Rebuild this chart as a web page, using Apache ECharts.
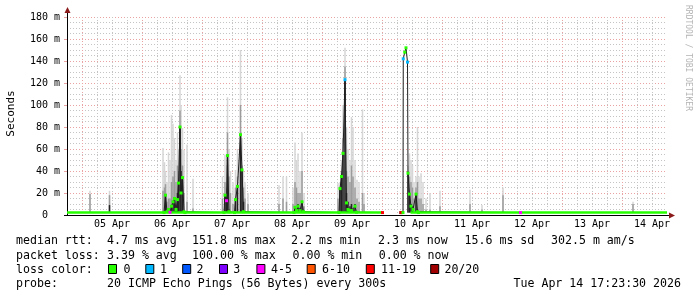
<!DOCTYPE html>
<html><head><meta charset="utf-8">
<script src="https://cdn.jsdelivr.net/npm/echarts@6/dist/echarts.min.js"></script>
<style>html,body{margin:0;padding:0;background:#fff}#c{width:697px;height:297px}</style>
</head><body><div id="c"></div>
<script>
// ---------- data (hours since 04 Apr 18:00; values in ms) ----------
const dayLabels = ['05 Apr','06 Apr','07 Apr','08 Apr','09 Apr','10 Apr','11 Apr','12 Apr','13 Apr','14 Apr'];
const lossLabels = ['0','1','2','3','4-5','6-10','11-19','20/20'];
const lossColors = ['#26ff00','#00b8ff','#0059ff','#7e00ff','#ff00ff','#ff5500','#ff0000','#a10000'];

const baseV = 2.2;
const baseStart = [0, 134.0, 137.4];
const baseEnd   = [126.0, 134.4, 240];

// smoke columns: time, light top, mid top, dark top
const smokeT   = [9.2,17.0, 38.4,39.0,39.4,40.0,40.6,41.2,41.8,42.4,43.0,43.6,44.2,44.6,45.2,45.6,46.2,46.8,48.0,50.4,
                  62.2,63.2,63.8,64.2,64.8,65.4,66.4,67.4,68.2,69.4,70.0,70.6,71.2,72.4,
                  84.8,86.4,87.8,90.4,91.2,91.8,92.4,93.2,94.0,94.8,
                  108.4,109.2,109.8,110.4,111.2,111.8,112.4,113.2,113.8,114.4,115.2,116.0,116.8,118.2,118.8,
                  136.4,137.0,137.6,138.2,138.8,139.6,140.2,140.8,141.6,142.4,143.6,145.2,149.2,161.2,166.0,174.4,226.4];
const smokeHi  = [22,22, 61,48,40,30,57,50,91,83,70,50,75,60,127,100,79,59,64,33,
                  35,55,45,107,60,40,30,41,60,150,70,40,30,20,
                  27,35,35,25,66,50,56,40,75,20,
                  29,30,50,100,152,80,60,50,89,80,50,32,30,96,20,
                  45,56,50,45,30,35,80,35,38,30,15,20,22,23,9,25,12];
const smokeMid = [19,18, 22,25,28,12,15,15,30,35,40,30,45,40,95,60,45,20,12,6,
                  15,30,25,75,35,20,10,25,35,100,45,25,15,10,
                  10,15,12,10,30,25,20,20,40,8,
                  15,25,40,70,135,40,35,30,45,35,25,15,12,20,10,
                  40,35,30,25,15,25,30,15,15,10,5,5,8,10,5,18,10];
const smokeLo  = [0,9, 0,0,18,3,5,4,8,12,15,5,20,29,80,40,34,3,0,0,
                  0,18,13,54,5,0,0,14,26,73,41,12,0,0,
                  0,0,0,0,8,5,10,6,12,0,
                  0,24,35,56,123,20,12,8,10,6,10,0,0,0,0,
                  38,20,10,8,3,19,5,0,0,0,0,0,0,0,0,3,3];

// median rtt samples: time, value, loss bucket index
const medT    = [38.8,39.4,40.0,40.6,41.2,41.8,42.4,43.0,43.6,44.2,44.6,45.2,45.6,46.2,46.8,47.2,
                 62.8,63.2,63.8,64.2,64.8,67.0,67.4,68.2,69.4,70.0,70.6,
                 90.8,91.2,91.8,92.4,93.2,94.0,94.6,
                 108.8,109.2,109.8,110.4,111.2,111.8,112.4,113.2,113.8,115.2,115.8,
                 126.2,126.4,133.5,133.9,134.4,134.5,135.1,135.6,136.2,136.4,137.0,137.6,138.4,139.6,140.2,140.6,181.4];
const medV    = [2.2,18,3,5,2.5,8,12,15,5,14,29,80,20,34,3,2.2,
                 2.2,18,13,54,3,2.2,14,26,73,41,3,
                 2.2,7,4,8,4,12,3,
                 2.2,24,35,56,123,11,5,4,4,8,2.5,
                 2.2,null,2.2,2.2,2.2,142,148,152,139,38,19,8,5,19,3,2.2,2.2];
const medLoss = [0,0,0,0,4,0,0,0,0,0,0,0,0,0,0,0,
                 0,0,4,0,0,0,0,0,0,0,0,
                 0,0,0,0,0,0,0,
                 0,0,0,0,1,0,0,0,0,0,0,
                 6,null,7,6,0,1,0,0,1,0,0,0,0,0,0,0,4];

// legend texts
const rowLabels = ['median rtt:','packet loss:','loss color:','probe:'];
const rttStats  = ['4.7 ms avg','151.8 ms max','2.2 ms min','2.3 ms now','15.6 ms sd','302.5 m am/s'];
const lossStats = ['3.39 % avg','100.00 % max','0.00 % min','0.00 % now'];
const probeText = '20 ICMP Echo Pings (56 Bytes) every 300s';
const stampText = 'Tue Apr 14 17:23:30 2026';

// ---------- layout ----------
const MONO = 'DejaVu Sans Mono';
const majorC = '#eaa2a2', minorC = '#c4c4c4', arrowC = '#8b1a1a';
const rttX = [107,192,291,378,464.5,551];
const lossX = [107,192,292.5,378.7];
const boxX = [108,145.3,182.2,219,256.4,306.7,365.8,430.2];
const boxLX = [123.6,160,196.4,233.3,271,322,381,444.4];
const rowY = [241,255.5,269.5,284];

const chart = echarts.init(document.getElementById('c'), null, {renderer:'canvas', width:697, height:297});

function smokeSeries(vals, color, z) {
  return {
    type:'custom', coordinateSystem:'cartesian2d', z: z, silent:true, animation:false,
    encode:{x:0, y:1},
    data: smokeT.map((t,i)=>[t, vals[i]]).filter(d=>d[1] > baseV),
    renderItem(params, api){
      const t = api.value(0), v = api.value(1);
      const a = api.coord([t-0.3, baseV]), b = api.coord([t+0.3, v]);
      return {type:'rect', shape:{x:a[0], y:b[1], width:b[0]-a[0], height:a[1]-b[1]}, style:{fill:color}};
    }
  };
}

const series = [
  smokeSeries(smokeHi, '#d6d6d6', 2),
  smokeSeries(smokeMid, '#9c9c9c', 3),
  smokeSeries(smokeLo, '#222222', 4),
  {type:'line', z:5, silent:true, symbol:'none', animation:false,
   data: medT.map((t,i)=>[t, medV[i]==null ? '-' : medV[i]]),
   lineStyle:{color:'#202020', width:1}}
];
baseStart.forEach((s,i)=>{
  series.push({type:'line', z:6, silent:true, symbol:'none', animation:false,
    data:[[s, baseV],[baseEnd[i], baseV]], lineStyle:{color:lossColors[0], width:2.5}});
});
series.push({type:'scatter', z:7, silent:true, animation:false, symbol:'rect', symbolSize:[3,3],
  data: medT.map((t,i)=>[t, medV[i], medLoss[i]]).filter(d=>d[2]!=null),
  itemStyle:{color: p => lossColors[p.value[2]], opacity:1}});

const graphic = [];
// axis extensions and arrows
graphic.push({type:'line', shape:{x1:67.5,y1:17,x2:67.5,y2:11}, style:{stroke:'#000', lineWidth:1}, z:10});
graphic.push({type:'line', shape:{x1:667,y1:215.5,x2:670,y2:215.5}, style:{stroke:'#000', lineWidth:1}, z:10});
graphic.push({type:'line', shape:{x1:64,y1:215.5,x2:67,y2:215.5}, style:{stroke:'#000', lineWidth:1}, z:10});
graphic.push({type:'polygon', shape:{points:[[64.5,13],[67.5,7],[70.5,13]]}, style:{fill:arrowC}, z:11});
graphic.push({type:'polygon', shape:{points:[[669,212.5],[675,215.5],[669,218.5]]}, style:{fill:arrowC}, z:11});
// axis title + watermark
graphic.push({type:'text', x:10.7, y:113.5, rotation:Math.PI/2,
  style:{text:'Seconds', font:'11px "'+MONO+'"', fill:'#000', align:'center', verticalAlign:'middle'}});
graphic.push({type:'text', x:688.5, y:5, rotation:-Math.PI/2,
  style:{text:'RRDTOOL / TOBI OETIKER', font:'8px "'+MONO+'"', fill:'#b4b4b4', align:'left', verticalAlign:'middle'}});
// legend rows
const LF = '11.6px "'+MONO+'"';
rowLabels.forEach((s,i)=>graphic.push({type:'text', x:16, y:rowY[i], style:{text:s, font:LF, fill:'#000', verticalAlign:'middle'}}));
rttStats.forEach((s,i)=>graphic.push({type:'text', x:rttX[i], y:rowY[0], style:{text:s, font:LF, fill:'#000', verticalAlign:'middle'}}));
lossStats.forEach((s,i)=>graphic.push({type:'text', x:lossX[i], y:rowY[1], style:{text:s, font:LF, fill:'#000', verticalAlign:'middle'}}));
lossLabels.forEach((s,i)=>{
  graphic.push({type:'rect', shape:{x:boxX[i]+0.5, y:264.5, width:8, height:9}, style:{fill:lossColors[i], stroke:'#000', lineWidth:1}});
  graphic.push({type:'text', x:boxLX[i], y:rowY[2], style:{text:s, font:LF, fill:'#000', verticalAlign:'middle'}});
});
graphic.push({type:'text', x:107, y:rowY[3], style:{text:probeText, font:LF, fill:'#000', verticalAlign:'middle'}});
graphic.push({type:'text', x:681, y:rowY[3], style:{text:stampText, font:LF, fill:'#000', align:'right', verticalAlign:'middle'}});

chart.setOption({
  animation:false,
  backgroundColor:'#ffffff',
  grid:{left:67, top:17, width:600, height:198, outerBoundsMode:'none', containLabel:false},
  xAxis:{type:'value', min:0, max:240, interval:6,
    axisLine:{show:true, lineStyle:{color:'#000', width:1}},
    axisTick:{show:false},
    axisLabel:{formatter: v => ((v-18)%24===0 ? dayLabels[(v-18)/24] : ''), margin:4,
      fontFamily:MONO, fontSize:10, color:'#000', hideOverlap:false},
    splitLine:{show:true, showMaxLine:false, lineStyle:{color:[minorC, majorC, minorC, minorC], type:[1,2], width:1}}
  },
  yAxis:{type:'value', min:0, max:180, interval:20,
    axisLine:{show:true, lineStyle:{color:'#000', width:1}},
    axisTick:{show:true, length:3, lineStyle:{color:majorC}},
    axisLabel:{formatter: v => (v===0 ? '0  ' : v+' m'), margin:7, fontFamily:MONO, fontSize:10, color:'#000'},
    splitLine:{show:true, lineStyle:{color:majorC, type:[1,2], width:1}},
    minorTick:{show:false, splitNumber:4},
    minorSplitLine:{show:true, lineStyle:{color:minorC, type:[1,2], width:1}}
  },
  series: series,
  graphic: graphic
});
</script></body></html>
